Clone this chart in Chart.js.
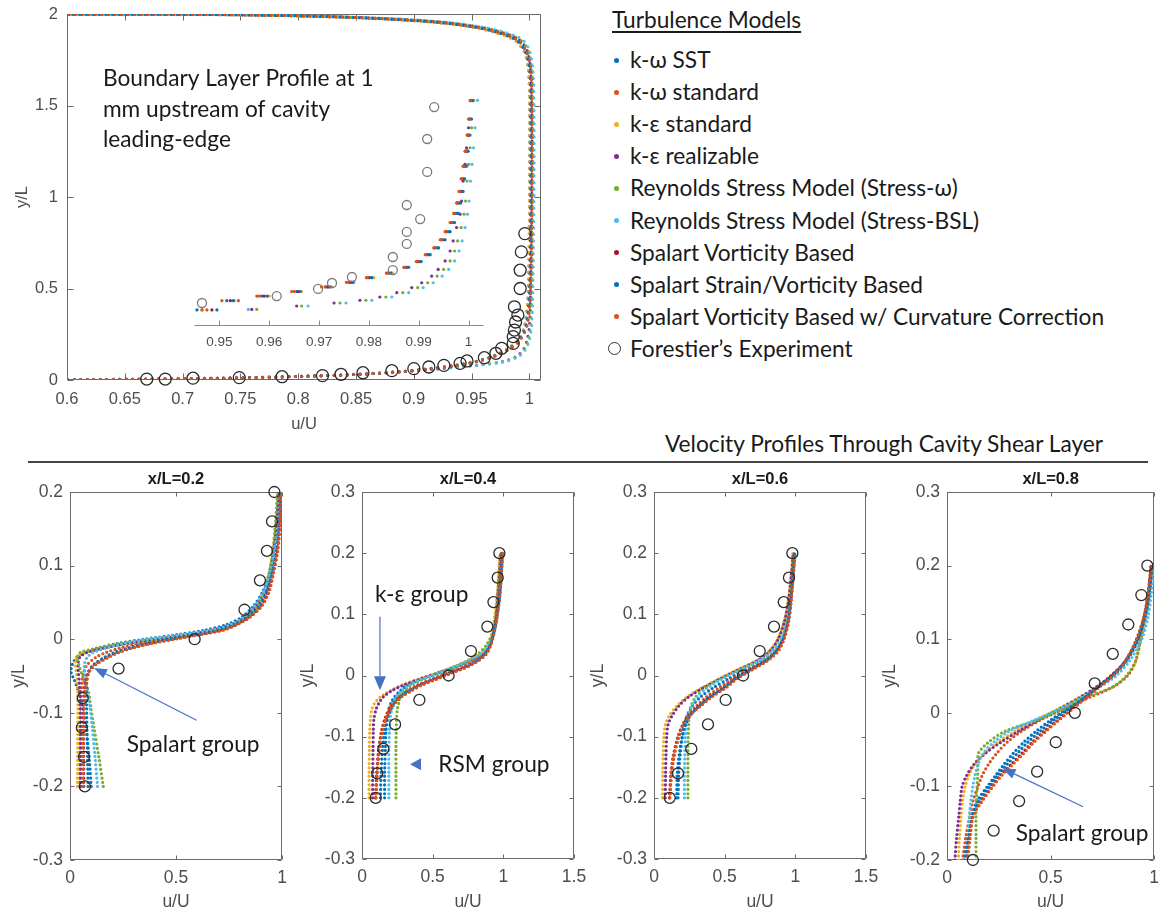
<!DOCTYPE html>
<html>
<head>
<meta charset="utf-8">
<script src="https://cdn.jsdelivr.net/npm/chart.js@4.4.1/dist/chart.umd.min.js"></script>
<style>
  body { margin: 0; background: #fff; width: 1161px; height: 915px; overflow: hidden; position: relative; font-family: Lato, "Open Sans", sans-serif; color: #1a1a1a; }
  canvas { position: absolute; left: 0; top: 0; }
  .abs { position: absolute; white-space: nowrap; font-size: 22.7px; line-height: 26px; }
  .dot { position: absolute; width: 5px; height: 5px; border-radius: 50%; }
  #rule { position: absolute; left: 28px; top: 461px; width: 1120px; height: 2px; background: #444; }
</style>
</head>
<body>
<div id="legend"></div>
<div class="abs" id="sectionTitle" style="right:58px; top:431px;">Velocity Profiles Through Cavity Shear Layer</div>
<div id="rule"></div>
<canvas id="main" width="1161" height="915"></canvas>
<canvas id="inset" width="1161" height="915"></canvas>
<canvas id="p1" width="1161" height="915"></canvas>
<canvas id="p2" width="1161" height="915"></canvas>
<canvas id="p3" width="1161" height="915"></canvas>
<canvas id="p4" width="1161" height="915"></canvas>
<script>
// ---- models ----
const modelNames = ['k-ω SST', 'k-ω standard', 'k-ε standard', 'k-ε realizable',
  'Reynolds Stress Model (Stress-ω)', 'Reynolds Stress Model (Stress-BSL)',
  'Spalart Vorticity Based', 'Spalart Strain/Vorticity Based',
  'Spalart Vorticity Based w/ Curvature Correction'];
const modelColors = ['#0072BD', '#D95319', '#EDB120', '#7E2F8E', '#77AC30', '#4DBEEE', '#A2142F', '#0072BD', '#D95319'];
const expName = 'Forestier’s Experiment';

// ---- boundary layer profile (top) ----
const mainY = [0, 0.004, 0.01, 0.02, 0.03, 0.045, 0.06, 0.08, 0.1, 0.13, 0.17, 0.22, 0.3, 0.5, 1.0, 1.5, 1.7, 1.8, 1.86, 1.9, 1.93, 1.955, 1.975, 1.99, 1.997, 2.0];
const mainU = [
  [0.55, 0.65, 0.73, 0.8, 0.845, 0.885, 0.91, 0.935, 0.952, 0.968, 0.981, 0.99, 0.996, 0.999, 1.0, 1.0, 0.999, 0.995, 0.987, 0.971, 0.95, 0.918, 0.868, 0.8, 0.72, 0.55],
  [0.55, 0.66, 0.74, 0.805, 0.85, 0.888, 0.913, 0.937, 0.953, 0.969, 0.982, 0.991, 0.997, 1.0, 1.001, 1.001, 1.0, 0.996, 0.988, 0.972, 0.951, 0.92, 0.87, 0.8, 0.73, 0.55],
  [0.55, 0.655, 0.735, 0.8, 0.848, 0.886, 0.912, 0.936, 0.953, 0.968, 0.981, 0.99, 0.996, 0.999, 1.0, 1.0, 0.999, 0.995, 0.986, 0.969, 0.948, 0.915, 0.865, 0.79, 0.71, 0.55],
  [0.55, 0.65, 0.73, 0.8, 0.85, 0.89, 0.92, 0.953, 0.976, 0.989, 0.995, 0.998, 1.0, 1.001, 1.002, 1.002, 1.001, 0.998, 0.991, 0.976, 0.956, 0.925, 0.878, 0.81, 0.73, 0.55],
  [0.55, 0.655, 0.735, 0.8, 0.848, 0.888, 0.918, 0.952, 0.977, 0.99, 0.996, 0.999, 1.001, 1.002, 1.003, 1.003, 1.002, 0.999, 0.992, 0.977, 0.957, 0.927, 0.88, 0.81, 0.73, 0.55],
  [0.55, 0.65, 0.73, 0.8, 0.85, 0.89, 0.92, 0.955, 0.979, 0.991, 0.997, 1.0, 1.002, 1.003, 1.004, 1.004, 1.003, 1.0, 0.994, 0.979, 0.958, 0.928, 0.88, 0.81, 0.73, 0.55],
  [0.55, 0.66, 0.74, 0.805, 0.85, 0.888, 0.913, 0.937, 0.954, 0.97, 0.983, 0.992, 0.998, 1.001, 1.002, 1.002, 1.001, 0.997, 0.989, 0.973, 0.952, 0.921, 0.871, 0.8, 0.72, 0.55],
  [0.55, 0.655, 0.735, 0.8, 0.847, 0.886, 0.911, 0.936, 0.953, 0.969, 0.982, 0.991, 0.997, 1.0, 1.001, 1.001, 1.0, 0.996, 0.988, 0.972, 0.951, 0.919, 0.869, 0.8, 0.72, 0.55],
  [0.55, 0.66, 0.74, 0.805, 0.85, 0.888, 0.913, 0.937, 0.954, 0.97, 0.983, 0.992, 0.998, 1.001, 1.002, 1.002, 1.001, 0.997, 0.989, 0.973, 0.952, 0.921, 0.872, 0.8, 0.73, 0.55]
];
const mainExpU = [0.669, 0.685, 0.709, 0.749, 0.786, 0.821, 0.837, 0.856, 0.881, 0.900, 0.913, 0.926, 0.940, 0.946, 0.961, 0.971, 0.976, 0.986, 0.986, 0.987, 0.988, 0.990, 0.987, 0.992, 0.992, 0.993, 0.996];
const mainExpY = [0.005, 0.005, 0.01, 0.013, 0.018, 0.024, 0.031, 0.04, 0.051, 0.062, 0.071, 0.08, 0.091, 0.104, 0.122, 0.146, 0.173, 0.2, 0.237, 0.273, 0.317, 0.355, 0.40, 0.5, 0.6, 0.7, 0.8];
const mainXTicks = [0.6, 0.65, 0.7, 0.75, 0.8, 0.85, 0.9, 0.95, 1];
const mainYTicks = [0, 0.5, 1, 1.5, 2];

// ---- inset (zoom near the wall), unlabeled height ----
const insetYUpper = [0.07, 0.11, 0.13, 0.15, 0.17, 0.19, 0.21, 0.23, 0.255, 0.28, 0.31, 0.34, 0.375, 0.41, 0.45, 0.49, 0.535, 0.585, 0.64, 0.695, 0.76, 0.83, 0.9, 0.98];
const insetYLower = [0.072, 0.087, 0.1, 0.112, 0.126, 0.145, 0.167, 0.188, 0.217, 0.246, 0.283, 0.326, 0.37, 0.428, 0.486, 0.543, 0.63, 0.703, 0.775, 0.862, 0.981];
const insetU = [
  [0.9455, 0.9515, 0.9585, 0.9655, 0.9715, 0.9765, 0.9805, 0.9845, 0.988, 0.9905, 0.9923, 0.994, 0.9953, 0.9963, 0.9972, 0.9979, 0.9984, 0.9989, 0.9992, 0.9996, 0.9999, 1.0003, 1.0006, 1.0009],
  [0.9475, 0.9505, 0.9575, 0.9645, 0.9705, 0.9755, 0.9795, 0.9835, 0.987, 0.9895, 0.9913, 0.993, 0.9943, 0.9953, 0.9963, 0.997, 0.9976, 0.9981, 0.9985, 0.9989, 0.9993, 0.9997, 1.0, 1.0003],
  [0.9465, 0.953, 0.96, 0.9665, 0.9725, 0.977, 0.981, 0.9848, 0.9878, 0.9903, 0.992, 0.9937, 0.995, 0.996, 0.9969, 0.9976, 0.9981, 0.9986, 0.999, 0.9994, 0.9997, 1.0001, 1.0004, 1.0007],
  [0.9565, 0.9655, 0.973, 0.9782, 0.9822, 0.9856, 0.9886, 0.9906, 0.9926, 0.9939, 0.9953, 0.9963, 0.9969, 0.9976, 0.9983, 0.9986, 0.9989, 0.9993, 0.9996, 1.0, 1.0005],
  [0.9575, 0.9665, 0.9742, 0.9794, 0.9834, 0.9868, 0.9898, 0.9918, 0.9937, 0.995, 0.9963, 0.9972, 0.9978, 0.9985, 0.9991, 0.9994, 0.9997, 1.0, 1.0003, 1.0006, 1.001],
  [0.9558, 0.9678, 0.9754, 0.9806, 0.9846, 0.988, 0.9909, 0.9929, 0.9947, 0.996, 0.9972, 0.9981, 0.9987, 0.9993, 0.9998, 1.0001, 1.0004, 1.0007, 1.001, 1.0013, 1.0018],
  [0.9485, 0.9522, 0.959, 0.9658, 0.9718, 0.9762, 0.98, 0.984, 0.9874, 0.9899, 0.9917, 0.9933, 0.9946, 0.9956, 0.9966, 0.9973, 0.9978, 0.9983, 0.9987, 0.9991, 0.9995, 0.9999, 1.0002, 1.0005],
  [0.9495, 0.9528, 0.9596, 0.9662, 0.9722, 0.9768, 0.9806, 0.9844, 0.9878, 0.9903, 0.9921, 0.9938, 0.9951, 0.9961, 0.997, 0.9977, 0.9982, 0.9987, 0.9991, 0.9994, 0.9998, 1.0001, 1.0004, 1.0008],
  [0.9465, 0.9538, 0.958, 0.965, 0.9712, 0.9758, 0.9797, 0.9837, 0.9872, 0.9897, 0.9915, 0.9932, 0.9945, 0.9955, 0.9965, 0.9972, 0.9977, 0.9982, 0.9986, 0.999, 0.9994, 0.9998, 1.0001, 1.0004]
];
const insetLevels = [insetYUpper, insetYUpper, insetYUpper, insetYLower, insetYLower, insetYLower, insetYUpper, insetYUpper, insetYUpper];
const insetExpU = [0.9931, 0.9917, 0.9917, 0.9876, 0.9903, 0.9876, 0.9876, 0.9848, 0.9848, 0.9766, 0.9726, 0.9698, 0.9615, 0.9465];
const insetExpY = [0.952, 0.813, 0.67, 0.526, 0.465, 0.409, 0.357, 0.3, 0.243, 0.213, 0.187, 0.161, 0.13, 0.1];
const insetXTicks = [0.95, 0.96, 0.97, 0.98, 0.99, 1];

// ---- shear layer profiles (bottom) ----
const panelTitles = ['x/L=0.2', 'x/L=0.4', 'x/L=0.6', 'x/L=0.8'];
const expY = [0.2, 0.16, 0.12, 0.08, 0.04, 0, -0.04, -0.08, -0.12, -0.16, -0.2];

const s1Y = [-0.2, -0.16, -0.12, -0.09, -0.07, -0.055, -0.045, -0.035, -0.025, -0.018, -0.012, -0.006, 0, 0.006, 0.012, 0.02, 0.03, 0.045, 0.065, 0.09, 0.12, 0.16, 0.2];
const s1U = [
  [0.1, 0.09, 0.075, 0.06, 0.04, 0.02, 0.005, 0.01, 0.03, 0.07, 0.13, 0.22, 0.35, 0.5, 0.63, 0.74, 0.81, 0.865, 0.91, 0.94, 0.96, 0.98, 0.99],
  [0.045, 0.046, 0.048, 0.05, 0.053, 0.058, 0.065, 0.08, 0.12, 0.17, 0.235, 0.32, 0.44, 0.57, 0.68, 0.77, 0.83, 0.885, 0.925, 0.95, 0.97, 0.985, 0.995],
  [0.035, 0.036, 0.037, 0.037, 0.036, 0.033, 0.03, 0.025, 0.03, 0.07, 0.16, 0.27, 0.42, 0.56, 0.68, 0.77, 0.83, 0.88, 0.915, 0.94, 0.955, 0.97, 0.98],
  [0.05, 0.05, 0.05, 0.048, 0.046, 0.043, 0.04, 0.038, 0.045, 0.08, 0.16, 0.26, 0.4, 0.55, 0.67, 0.765, 0.83, 0.88, 0.92, 0.945, 0.96, 0.975, 0.985],
  [0.157, 0.136, 0.113, 0.097, 0.086, 0.066, 0.053, 0.042, 0.034, 0.05, 0.13, 0.23, 0.38, 0.54, 0.68, 0.78, 0.835, 0.885, 0.917, 0.94, 0.96, 0.97, 0.98],
  [0.13, 0.118, 0.105, 0.093, 0.083, 0.075, 0.07, 0.068, 0.08, 0.11, 0.17, 0.25, 0.37, 0.52, 0.66, 0.76, 0.82, 0.87, 0.915, 0.945, 0.965, 0.985, 0.995],
  [0.065, 0.064, 0.063, 0.064, 0.067, 0.074, 0.085, 0.112, 0.17, 0.22, 0.285, 0.37, 0.48, 0.6, 0.71, 0.785, 0.845, 0.9, 0.935, 0.958, 0.978, 0.99, 0.995],
  [0.085, 0.083, 0.08, 0.078, 0.078, 0.08, 0.088, 0.11, 0.16, 0.21, 0.275, 0.36, 0.47, 0.59, 0.7, 0.78, 0.84, 0.895, 0.93, 0.955, 0.975, 0.99, 0.995],
  [0.062, 0.062, 0.064, 0.068, 0.072, 0.08, 0.09, 0.12, 0.18, 0.23, 0.295, 0.384, 0.494, 0.61, 0.72, 0.79, 0.85, 0.905, 0.94, 0.96, 0.98, 0.992, 0.995]
];
const s1ExpU = [0.964, 0.953, 0.929, 0.896, 0.823, 0.588, 0.229, 0.06, 0.056, 0.066, 0.07];

const s2Y = [-0.2, -0.16, -0.12, -0.09, -0.07, -0.055, -0.045, -0.035, -0.025, -0.015, -0.005, 0.005, 0.015, 0.025, 0.035, 0.05, 0.07, 0.1, 0.13, 0.16, 0.2];
const s2U = [
  [0.16, 0.16, 0.165, 0.17, 0.18, 0.19, 0.205, 0.23, 0.27, 0.33, 0.43, 0.55, 0.67, 0.77, 0.845, 0.9, 0.932, 0.955, 0.97, 0.98, 0.99],
  [0.1, 0.105, 0.118, 0.138, 0.162, 0.19, 0.215, 0.255, 0.315, 0.395, 0.5, 0.61, 0.72, 0.8, 0.86, 0.905, 0.935, 0.958, 0.975, 0.985, 0.995],
  [0.05, 0.05, 0.052, 0.055, 0.06, 0.07, 0.09, 0.13, 0.2, 0.29, 0.41, 0.54, 0.66, 0.76, 0.84, 0.89, 0.92, 0.94, 0.955, 0.965, 0.975],
  [0.075, 0.076, 0.078, 0.08, 0.085, 0.1, 0.12, 0.15, 0.21, 0.3, 0.42, 0.55, 0.67, 0.77, 0.85, 0.9, 0.93, 0.95, 0.96, 0.97, 0.98],
  [0.24, 0.24, 0.24, 0.242, 0.245, 0.25, 0.26, 0.27, 0.3, 0.35, 0.44, 0.55, 0.66, 0.75, 0.82, 0.88, 0.925, 0.95, 0.965, 0.975, 0.985],
  [0.19, 0.19, 0.19, 0.195, 0.2, 0.21, 0.22, 0.24, 0.28, 0.34, 0.44, 0.56, 0.67, 0.76, 0.84, 0.9, 0.935, 0.96, 0.975, 0.985, 0.995],
  [0.095, 0.105, 0.12, 0.142, 0.168, 0.2, 0.23, 0.275, 0.345, 0.425, 0.535, 0.64, 0.75, 0.825, 0.875, 0.91, 0.933, 0.955, 0.972, 0.982, 0.99],
  [0.13, 0.135, 0.145, 0.16, 0.18, 0.205, 0.23, 0.27, 0.335, 0.415, 0.525, 0.635, 0.745, 0.82, 0.87, 0.908, 0.932, 0.955, 0.972, 0.983, 0.993],
  [0.097, 0.108, 0.123, 0.145, 0.172, 0.205, 0.235, 0.28, 0.35, 0.43, 0.54, 0.645, 0.755, 0.83, 0.88, 0.912, 0.935, 0.958, 0.975, 0.985, 0.995]
];
const s2ExpU = [0.972, 0.96, 0.93, 0.887, 0.771, 0.613, 0.406, 0.234, 0.151, 0.108, 0.097];

const s3Y = [-0.2, -0.16, -0.13, -0.1, -0.08, -0.065, -0.05, -0.035, -0.02, -0.005, 0.01, 0.025, 0.04, 0.06, 0.09, 0.12, 0.16, 0.2];
const s3U = [
  [0.17, 0.175, 0.185, 0.2, 0.215, 0.235, 0.27, 0.33, 0.42, 0.53, 0.65, 0.77, 0.85, 0.905, 0.945, 0.965, 0.98, 0.993],
  [0.11, 0.125, 0.145, 0.175, 0.205, 0.24, 0.3, 0.37, 0.46, 0.555, 0.67, 0.785, 0.86, 0.912, 0.95, 0.968, 0.983, 0.995],
  [0.06, 0.062, 0.065, 0.07, 0.08, 0.11, 0.16, 0.235, 0.34, 0.465, 0.6, 0.73, 0.815, 0.875, 0.922, 0.948, 0.968, 0.983],
  [0.08, 0.082, 0.085, 0.09, 0.1, 0.13, 0.175, 0.245, 0.35, 0.47, 0.6, 0.735, 0.82, 0.88, 0.925, 0.95, 0.97, 0.985],
  [0.24, 0.24, 0.24, 0.242, 0.245, 0.25, 0.262, 0.295, 0.37, 0.48, 0.62, 0.76, 0.85, 0.91, 0.945, 0.965, 0.98, 0.992],
  [0.215, 0.215, 0.218, 0.222, 0.23, 0.242, 0.265, 0.305, 0.38, 0.485, 0.615, 0.745, 0.835, 0.9, 0.942, 0.965, 0.985, 1.0],
  [0.11, 0.12, 0.137, 0.17, 0.205, 0.248, 0.32, 0.4, 0.5, 0.58, 0.69, 0.8, 0.872, 0.918, 0.952, 0.968, 0.982, 0.995],
  [0.16, 0.165, 0.178, 0.2, 0.225, 0.258, 0.32, 0.395, 0.49, 0.575, 0.685, 0.795, 0.865, 0.915, 0.95, 0.967, 0.982, 0.993],
  [0.113, 0.123, 0.14, 0.175, 0.21, 0.255, 0.33, 0.41, 0.51, 0.59, 0.7, 0.81, 0.88, 0.922, 0.955, 0.97, 0.985, 0.998]
];
const s3ExpU = [0.979, 0.955, 0.918, 0.849, 0.748, 0.63, 0.507, 0.382, 0.264, 0.17, 0.111];

const s4Y = [-0.2, -0.17, -0.14, -0.12, -0.1, -0.085, -0.07, -0.055, -0.04, -0.025, -0.01, 0.005, 0.02, 0.035, 0.05, 0.07, 0.1, 0.13, 0.16, 0.2];
const s4U = [
  [0.08, 0.1, 0.12, 0.145, 0.195, 0.235, 0.275, 0.32, 0.37, 0.43, 0.5, 0.575, 0.655, 0.73, 0.8, 0.865, 0.925, 0.955, 0.975, 0.99],
  [0.075, 0.09, 0.11, 0.125, 0.15, 0.17, 0.2, 0.24, 0.29, 0.36, 0.45, 0.56, 0.68, 0.8, 0.87, 0.91, 0.935, 0.955, 0.975, 0.99],
  [0.055, 0.06, 0.068, 0.075, 0.088, 0.105, 0.135, 0.18, 0.245, 0.33, 0.43, 0.535, 0.635, 0.72, 0.79, 0.86, 0.92, 0.95, 0.97, 0.985],
  [0.038, 0.046, 0.057, 0.064, 0.073, 0.095, 0.13, 0.185, 0.26, 0.345, 0.44, 0.54, 0.635, 0.72, 0.79, 0.86, 0.92, 0.95, 0.97, 0.985],
  [0.14, 0.14, 0.14, 0.142, 0.145, 0.148, 0.15, 0.152, 0.2, 0.28, 0.435, 0.56, 0.66, 0.8, 0.865, 0.91, 0.935, 0.96, 0.975, 0.99],
  [0.1, 0.103, 0.108, 0.115, 0.125, 0.135, 0.15, 0.175, 0.225, 0.3, 0.42, 0.54, 0.645, 0.735, 0.815, 0.88, 0.94, 0.97, 0.985, 1.0],
  [0.095, 0.108, 0.125, 0.165, 0.215, 0.258, 0.31, 0.362, 0.412, 0.47, 0.535, 0.6, 0.665, 0.73, 0.795, 0.86, 0.915, 0.95, 0.97, 0.985],
  [0.085, 0.104, 0.125, 0.155, 0.205, 0.245, 0.29, 0.34, 0.39, 0.45, 0.515, 0.585, 0.66, 0.73, 0.795, 0.86, 0.92, 0.955, 0.975, 0.99],
  [0.1, 0.112, 0.127, 0.17, 0.222, 0.265, 0.318, 0.371, 0.42, 0.478, 0.54, 0.605, 0.67, 0.735, 0.8, 0.86, 0.915, 0.95, 0.97, 0.99]
];
const s4ExpU = [0.967, 0.938, 0.875, 0.8, 0.713, 0.617, 0.525, 0.435, 0.348, 0.225, 0.125];

const xTicks1 = [0, 0.5, 1];
const xTicks15 = [0, 0.5, 1, 1.5];
const yTicksA = [-0.3, -0.2, -0.1, 0, 0.1, 0.2];
const yTicksB = [-0.3, -0.2, -0.1, 0, 0.1, 0.2, 0.3];
const yTicksC = [-0.2, -0.1, 0, 0.1, 0.2, 0.3];

// ---- page text: legend ----
const legend = document.getElementById('legend');
legend.innerHTML = '<div class="abs" style="left:612px;top:7px;text-decoration:underline;text-underline-offset:3px">Turbulence Models</div>';
modelNames.forEach((name, i) => {
  const cy = 60 + i * 32.1;
  legend.innerHTML += `<div class="dot" style="left:614px;top:${cy - 2.5}px;background:${modelColors[i]}"></div>` +
    `<div class="abs" style="left:630px;top:${cy - 13}px">${name}</div>`;
});
legend.innerHTML += '<div style="position:absolute;left:608px;top:342px;width:11px;height:11px;border:1.6px solid #333;border-radius:50%"></div>' +
  `<div class="abs" style="left:630px;top:336px">${expName}</div>`;

// ---- helpers ----
const W = 1161, H = 915;
const axisGray = '#4d4d4d';
const noteBlue = '#4472C4';
const fmt = v => String(Math.round(v * 1000) / 1000);

function curves(levels, lists, gap, width) {
  return lists.map((u, i) => ({
    label: modelNames[i],
    data: u.map((v, k) => ({ x: v, y: (Array.isArray(levels[0]) ? levels[i] : levels)[k] })),
    borderColor: modelColors[i], backgroundColor: modelColors[i],
    borderWidth: width, borderDash: [0, gap], borderCapStyle: 'round',
    pointRadius: 0, tension: 0.3, fill: false, order: 20 - i
  }));
}
function expSet(us, ys, r, color) {
  return {
    label: expName, data: us.map((u, k) => ({ x: u, y: ys[k] })), showLine: false,
    pointRadius: r, pointBorderColor: color, pointBackgroundColor: 'rgba(0,0,0,0)',
    pointBorderWidth: 1.3, order: 0, clip: false
  };
}

const frame = {
  id: 'frame',
  beforeDatasetsDraw(chart, args, o) {
    const { ctx, chartArea: a, scales: { x, y } } = chart;
    const L = Math.round(a.left) + 0.5, R = Math.round(a.right) - 0.5;
    const T = Math.round(a.top) + 0.5, B = Math.round(a.bottom) - 0.5;
    ctx.save();
    ctx.strokeStyle = o.color || '#6b6b6b';
    ctx.lineWidth = 1;
    ctx.beginPath();
    if (o.box) ctx.rect(L, T, R - L, B - T);
    else { ctx.moveTo(L, B); ctx.lineTo(R, B); }
    x.ticks.forEach(t => {
      const p = Math.round(x.getPixelForValue(t.value)) + 0.5;
      ctx.moveTo(p, B); ctx.lineTo(p, B - o.tick);
      if (o.box) { ctx.moveTo(p, T); ctx.lineTo(p, T + o.tick); }
    });
    if (o.box) y.ticks.forEach(t => {
      const p = Math.round(y.getPixelForValue(t.value)) + 0.5;
      ctx.moveTo(L, p); ctx.lineTo(L + o.tick, p);
      ctx.moveTo(R, p); ctx.lineTo(R - o.tick, p);
    });
    ctx.stroke();
    ctx.restore();
  },
  afterDatasetsDraw(chart, args, o) {
    const { ctx, chartArea: a, scales: { x, y } } = chart;
    ctx.save();
    if (o.title) {
      ctx.fillStyle = '#1a1a1a';
      ctx.font = 'bold 16.5px "Liberation Sans", Arial, sans-serif';
      ctx.textAlign = 'center'; ctx.textBaseline = 'middle';
      ctx.fillText(o.title, (a.left + a.right) / 2, a.top - 13);
    }
    (o.notes || []).forEach(n => {
      if (n.text) {
        ctx.fillStyle = '#1a1a1a';
        ctx.font = '22.7px Lato, "Open Sans", sans-serif';
        ctx.textAlign = 'left'; ctx.textBaseline = 'middle';
        const px = x.getPixelForValue(n.at[0]), py = y.getPixelForValue(n.at[1]);
        n.text.forEach((line, k) => ctx.fillText(line, px, py + k * (n.lineHeight || 0)));
        return;
      }
      const fx = x.getPixelForValue(n.from[0]), fy = y.getPixelForValue(n.from[1]);
      const tx = x.getPixelForValue(n.to[0]), ty = y.getPixelForValue(n.to[1]);
      const ang = Math.atan2(ty - fy, tx - fx), len = n.headLen || 13, wid = n.headWid || 5;
      const bx = tx - len * Math.cos(ang), by = ty - len * Math.sin(ang);
      ctx.strokeStyle = noteBlue; ctx.fillStyle = noteBlue; ctx.lineWidth = 1.2;
      if (n.shaft !== false) {
        ctx.beginPath(); ctx.moveTo(fx, fy); ctx.lineTo(bx, by); ctx.stroke();
      }
      ctx.beginPath();
      ctx.moveTo(tx, ty);
      ctx.lineTo(bx + wid * Math.sin(ang), by - wid * Math.cos(ang));
      ctx.lineTo(bx - wid * Math.sin(ang), by + wid * Math.cos(ang));
      ctx.closePath(); ctx.fill();
    });
    ctx.restore();
  }
};

function makeChart(id, o) {
  const [L, T, R, B] = o.box;
  const tickFont = { family: '"Liberation Sans", Arial, sans-serif', size: o.fontSize || 16 };
  return new Chart(document.getElementById(id), {
    type: 'line',
    data: { datasets: o.datasets },
    options: {
      responsive: false, animation: false, events: [],
      layout: { padding: { left: L - o.yW, top: T, right: W - R, bottom: H - B - o.xH } },
      plugins: { legend: { display: false }, tooltip: { enabled: false }, frame: o.frame },
      scales: {
        x: {
          type: 'linear', min: o.x[0], max: o.x[1],
          grid: { display: false, drawTicks: false }, border: { display: false },
          afterBuildTicks: s => { s.ticks = o.xTicks.map(v => ({ value: v })); },
          afterFit: s => { s.height = o.xH; s.paddingLeft = 0; s.paddingRight = 0; },
          ticks: { padding: o.xPad, color: axisGray, font: tickFont, maxRotation: 0, autoSkip: false, callback: fmt },
          title: { display: !!o.xTitle, text: o.xTitle, color: axisGray, font: tickFont, padding: o.xTitlePad }
        },
        y: {
          type: 'linear', min: o.y[0], max: o.y[1], display: !o.yHidden,
          grid: { display: false, drawTicks: false }, border: { display: false },
          afterBuildTicks: s => { if (o.yTicks) s.ticks = o.yTicks.map(v => ({ value: v })); },
          afterFit: s => { s.width = o.yW; s.paddingTop = 0; s.paddingBottom = 0; },
          ticks: { padding: o.yPad, color: axisGray, font: tickFont, autoSkip: false, callback: fmt },
          title: { display: !!o.yTitle, text: o.yTitle, color: axisGray, font: tickFont, padding: { top: 4, bottom: 4 } }
        }
      }
    },
    plugins: [frame]
  });
}

// ---- top: boundary layer profile ----
makeChart('main', {
  box: [67, 14, 541, 380], x: [0.6, 1.01], y: [0, 2], xTicks: mainXTicks, yTicks: mainYTicks,
  yW: 58.6, xH: 58.6, xPad: 10, yPad: 9, fontSize: 16.5, xTitle: 'u/U', yTitle: 'y/L', xTitlePad: { top: 4, bottom: 4 },
  datasets: [expSet(mainExpU, mainExpY, 6, '#2a2a2a'), ...curves(mainY, mainU, 6.5, 3)],
  frame: {
    box: true, tick: 6,
    notes: [{ text: ['Boundary Layer Profile at 1', 'mm upstream of cavity', 'leading-edge'], at: [0.6311, 1.645], lineHeight: 30.5 }]
  }
});

makeChart('inset', {
  box: [194, 96, 484, 326], x: [0.9449, 1.0031], y: [0, 1], xTicks: insetXTicks, yHidden: true,
  yW: 0, xH: 30, xPad: 8, fontSize: 13.5,
  datasets: [
    expSet(insetExpU, insetExpY, 4.5, '#7a7a7a'),
    ...insetU.map((u, i) => ({
      label: modelNames[i], data: u.map((v, k) => ({ x: v, y: insetLevels[i][k] })), showLine: false,
      pointRadius: 1.6, pointBorderWidth: 0, pointBackgroundColor: modelColors[i], order: 20 - i
    }))
  ],
  frame: { box: false, tick: 5, color: '#8a8a8a' }
});

// ---- bottom: shear layer panels ----
const panelCommon = { xPad: 8, yPad: 7, fontSize: 17.5, xTitle: 'u/U', yTitle: 'y/L', xTitlePad: { top: 2, bottom: 0 } };
function notesFor(i) {
  if (i === 0) return [
    { from: [0.597, -0.110], to: [0.113, -0.039] },
    { text: ['Spalart group'], at: [0.268, -0.1437] }];
  if (i === 1) return [
    { from: [0.127, 0.096], to: [0.127, -0.024], headLen: 14, headWid: 6 },
    { text: ['k-ε group'], at: [0.092, 0.132] },
    { from: [0.43, -0.145], to: [0.34, -0.145], shaft: false, headLen: 11, headWid: 6 },
    { text: ['RSM group'], at: [0.54, -0.146] }];
  if (i === 3) return [
    { from: [0.657, -0.1276], to: [0.268, -0.0754] },
    { text: ['Spalart group'], at: [0.332, -0.1637] }];
  return [];
}
const panels = [
  { id: 'p1', box: [70, 492, 282, 860], x: [0, 1], y: [-0.3, 0.2], xTicks: xTicks1, yTicks: yTicksA, yW: 65.6, levels: s1Y, u: s1U, exp: s1ExpU },
  { id: 'p2', box: [362, 492, 574, 859], x: [0, 1.5], y: [-0.3, 0.3], xTicks: xTicks15, yTicks: yTicksB, yW: 68.6, levels: s2Y, u: s2U, exp: s2ExpU },
  { id: 'p3', box: [654, 492, 866, 859], x: [0, 1.5], y: [-0.3, 0.3], xTicks: xTicks15, yTicks: yTicksB, yW: 70.6, levels: s3Y, u: s3U, exp: s3ExpU },
  { id: 'p4', box: [947, 492, 1157, 860], x: [0, 1], y: [-0.2, 0.3], xTicks: xTicks1, yTicks: yTicksC, yW: 71.6, levels: s4Y, u: s4U, exp: s4ExpU }
];
panels.forEach((p, i) => {
  makeChart(p.id, Object.assign({}, panelCommon, p, {
    xH: 913 - p.box[3],
    datasets: [expSet(p.exp, expY, 5.5, '#2a2a2a'), ...curves(p.levels, p.u, 4.3, 3.2)],
    frame: { box: true, tick: 4, title: panelTitles[i], notes: notesFor(i) }
  }));
});
</script>
</body>
</html>
